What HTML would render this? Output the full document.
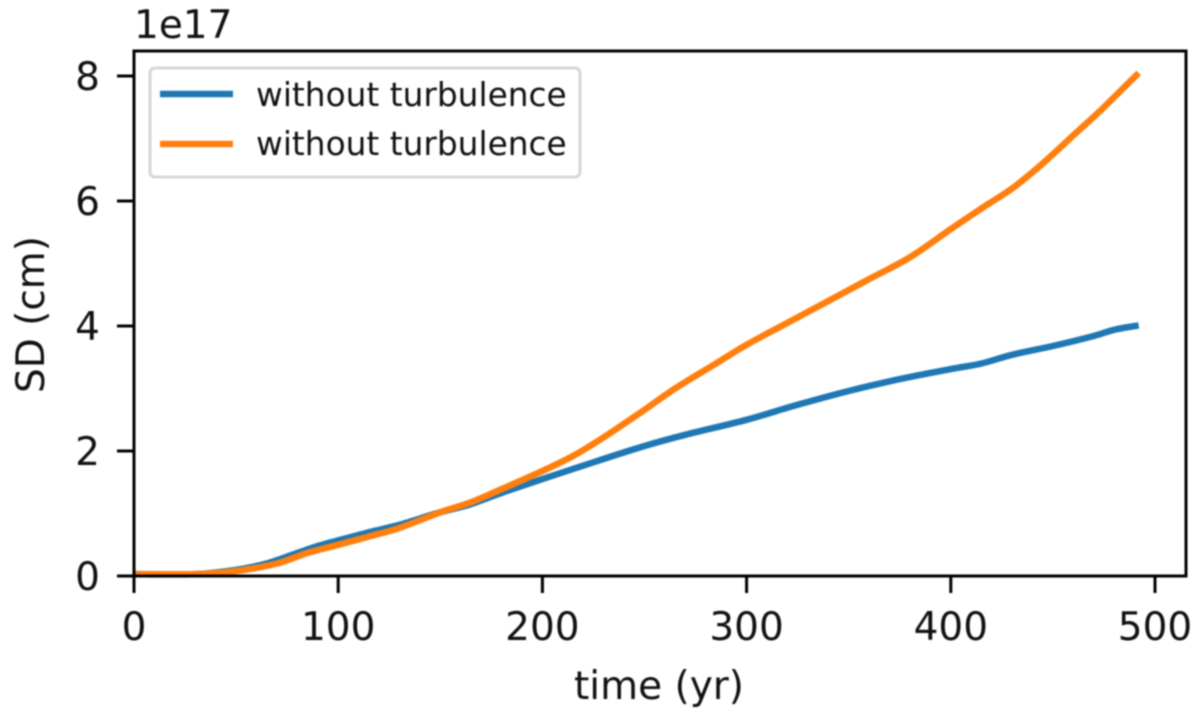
<!DOCTYPE html>
<html>
<head>
<meta charset="utf-8">
<title>SD vs time</title>
<style>
html,body{margin:0;padding:0;background:#fff;}
svg{display:block;}
text{font-family:"DejaVu Sans","Liberation Sans",sans-serif;fill:#111;}
</style>
</head>
<body>
<svg id="chart" width="1200" height="713" viewBox="0 0 1200 713" xmlns="http://www.w3.org/2000/svg">
  <rect x="0" y="0" width="1200" height="713" fill="#fff"/>
  <g id="plot" style="filter:blur(0.7px)">
    <g id="series"></g>
    <rect x="134" y="51" width="1052" height="525" fill="none" stroke="#000" stroke-width="3"/>
    <g id="xticks"></g>
    <g id="yticks"></g>
    <text x="134" y="38" font-size="39">1e17</text>
    <text x="659" y="699" font-size="39" text-anchor="middle">time (yr)</text>
    <text transform="translate(44,314.5) rotate(-90)" font-size="39" text-anchor="middle">SD (cm)</text>
    <g>
      <rect x="150" y="68" width="430" height="109" rx="5" fill="#fff" stroke="#d6d6d6" stroke-width="3"/>
      <line x1="160" y1="94" x2="233" y2="94" stroke="#1f77b4" stroke-width="6.5"/>
      <text x="256" y="106" font-size="32.8">without turbulence</text>
      <line x1="160" y1="144" x2="233" y2="144" stroke="#ff7f0e" stroke-width="6.5"/>
      <text x="256" y="155" font-size="32.8">without turbulence</text>
    </g>
  </g>
</svg>
<script>
const blueTimes = [0,30,50,65,80,90,100,115,130,150,165,180,200,225,250,270,300,325,350,375,400,415,430,450,470,480,492];
const blueValues = [0.03,0.03,0.1,0.2,0.37,0.48,0.57,0.7,0.82,1.02,1.15,1.33,1.55,1.82,2.08,2.26,2.5,2.74,2.96,3.15,3.31,3.4,3.54,3.68,3.84,3.94,4.01];
const orangeTimes = [0,30,50,70,85,100,115,130,150,165,180,200,215,230,250,265,285,300,320,340,360,380,400,415,430,445,460,475,492];
const orangeValues = [0.03,0.03,0.08,0.2,0.37,0.5,0.63,0.77,1.02,1.18,1.39,1.68,1.92,2.22,2.66,3.0,3.4,3.7,4.05,4.4,4.75,5.1,5.55,5.88,6.2,6.6,7.05,7.5,8.05];
const xTickValues = [0,100,200,300,400,500];
const yTickValues = [0,2,4,6,8];

const NS = 'http://www.w3.org/2000/svg';
function xScale(t){ return 134 + t * 2.042; }
function yScale(v){ return 576 - v * 62.5; }

function smoothPath(pts){
  let d = 'M' + pts[0][0].toFixed(1) + ',' + pts[0][1].toFixed(1);
  for (let i = 0; i < pts.length - 1; i++){
    const p0 = pts[Math.max(i-1,0)], p1 = pts[i], p2 = pts[i+1], p3 = pts[Math.min(i+2,pts.length-1)];
    const c1x = p1[0] + (p2[0]-p0[0])/6, c1y = p1[1] + (p2[1]-p0[1])/6;
    const c2x = p2[0] - (p3[0]-p1[0])/6, c2y = p2[1] - (p3[1]-p1[1])/6;
    d += 'C' + c1x.toFixed(1) + ',' + c1y.toFixed(1) + ' ' + c2x.toFixed(1) + ',' + c2y.toFixed(1) + ' ' + p2[0].toFixed(1) + ',' + p2[1].toFixed(1);
  }
  return d;
}

function drawSeries(times, values, color, name){
  const p = document.createElementNS(NS,'path');
  
  
  p.setAttribute('d', smoothPath(times.map((t,i)=>[xScale(t), yScale(values[i])])));
  p.setAttribute('fill','none');
  p.setAttribute('stroke',color);
  p.setAttribute('stroke-width','6.5');
  p.setAttribute('stroke-linejoin','round');
  document.getElementById('series').appendChild(p);
}
drawSeries(blueTimes, blueValues, '#1f77b4', 'series-blue');
drawSeries(orangeTimes, orangeValues, '#ff7f0e', 'series-orange');

xTickValues.forEach(function(v){
  const x = xScale(v);
  const l = document.createElementNS(NS,'line');
  
  
  l.setAttribute('x1',x); l.setAttribute('x2',x);
  l.setAttribute('y1',576); l.setAttribute('y2',593);
  l.setAttribute('stroke','#000'); l.setAttribute('stroke-width','3');
  document.getElementById('xticks').appendChild(l);
  const t = document.createElementNS(NS,'text');
  
  
  t.setAttribute('x',x); t.setAttribute('y',640);
  t.setAttribute('font-size','39');
  t.setAttribute('text-anchor','middle');
  t.textContent = v;
  document.getElementById('xticks').appendChild(t);
});
yTickValues.forEach(function(v){
  const y = yScale(v);
  const l = document.createElementNS(NS,'line');
  
  
  l.setAttribute('x1',117); l.setAttribute('x2',134);
  l.setAttribute('y1',y); l.setAttribute('y2',y);
  l.setAttribute('stroke','#000'); l.setAttribute('stroke-width','3');
  document.getElementById('yticks').appendChild(l);
  const t = document.createElementNS(NS,'text');
  
  
  t.setAttribute('x',100); t.setAttribute('y',y+14);
  t.setAttribute('font-size','39');
  t.setAttribute('text-anchor','end');
  t.textContent = v;
  document.getElementById('yticks').appendChild(t);
});
</script>
</body>
</html>
